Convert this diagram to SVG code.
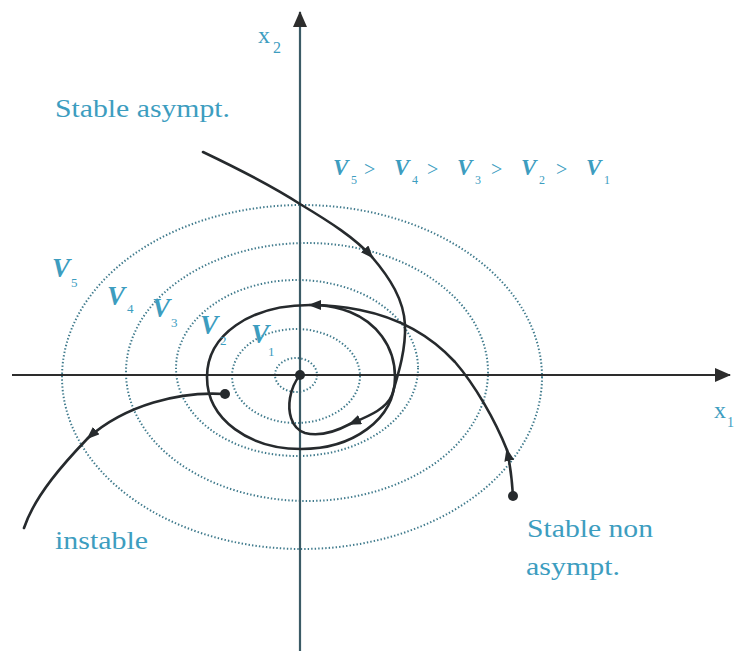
<svg xmlns="http://www.w3.org/2000/svg" width="736" height="651" viewBox="0 0 736 651">
<style>
.lvl{fill:none;stroke:#3f7a8c;stroke-width:2;stroke-dasharray:1.4 2.1}
.traj{fill:none;stroke:#262a2d;stroke-width:2.6;stroke-linecap:round;stroke-linejoin:round}
.arr{fill:none;stroke:#262a2d;stroke-width:2.6;stroke-linecap:round;marker-end:url(#ah)}
.lbl{font-family:"Liberation Serif","Times New Roman",serif;fill:#3d9dbf}
.vi{font-family:"Liberation Serif","Times New Roman",serif;font-style:italic;font-weight:bold;fill:#3d9dbf}
.dot{fill:#262a2d}
</style>
<defs>
<marker id="ah" markerUnits="userSpaceOnUse" markerWidth="14" markerHeight="12" refX="11" refY="5" orient="auto">
<path d="M0,0 L13,5 L0,10 z" fill="#262a2d"/>
</marker>
<marker id="axh" markerUnits="userSpaceOnUse" markerWidth="16" markerHeight="16" refX="15" refY="7" orient="auto">
<path d="M0,0 L16,7 L0,14 z" fill="#2d2d2d"/>
</marker>
</defs>
<rect width="736" height="651" fill="#ffffff"/>

<g id="level-sets">
<ellipse class="lvl" cx="296" cy="375" rx="21" ry="17"/>
<ellipse class="lvl" cx="296" cy="376" rx="64" ry="47"/>
<ellipse class="lvl" cx="297" cy="368" rx="121" ry="88"/>
<ellipse class="lvl" cx="307" cy="372" rx="181" ry="129"/>
<ellipse class="lvl" cx="302" cy="377" rx="240" ry="172"/>
</g>

<g id="axes">
<line x1="12" y1="375" x2="730" y2="375" stroke="#2d2d2d" stroke-width="2.2" marker-end="url(#axh)"/>
<line x1="300" y1="651" x2="300" y2="12" stroke="#3b5b66" stroke-width="2.2" marker-end="url(#axh)"/>
<text class="lbl" x="258" y="43" font-size="24">x</text>
<text class="lbl" x="273" y="53" font-size="16">2</text>
<text class="lbl" x="714" y="418" font-size="24">x</text>
<text class="lbl" x="727" y="427" font-size="14">1</text>
</g>

<g id="connectors">
<g id="traj-stable-asympt">
<path class="arr" d="M203,152 C245,172 275,188 300,204 C330,222 355,238 372,257"/>
<path class="arr" d="M372,257 C390,278 404,300 405,325 C406,350 398,375 392,395 C386,410 366,417 350,424"/>
<path class="traj" d="M350,424 C335,432 320,437 305,433 C290,428 288,410 290,398 C292,386 296,380 300,375"/>
</g>
<g id="traj-stable-non-asympt">
<path class="arr" d="M513,496 C512,480 510,464 507,450"/>
<path class="arr" d="M507,450 C495,420 475,385 455,362 C430,335 400,318 360,310 C340,306 325,305 310,305"/>
<path class="traj" d="M310,305 C250,305 207,335 207,377 C207,420 250,449 301,449 C352,449 395,420 395,377 C395,345 375,322 350,312 C340,308 330,306 318,305"/>
</g>
<g id="traj-instable">
<path class="arr" d="M225,394 C180,391 125,405 88,438"/>
<path class="traj" d="M88,438 C65,462 35,495 24,528"/>
</g>
</g>

<g id="points">
<circle class="dot" cx="300" cy="375" r="5"/>
<circle class="dot" cx="225" cy="394" r="5"/>
<circle class="dot" cx="513" cy="496" r="5"/>
</g>

<g id="level-labels">
<text class="vi" x="52" y="277" font-size="27">V</text><text class="lbl" x="71" y="287" font-size="13">5</text>
<text class="vi" x="107" y="305" font-size="27">V</text><text class="lbl" x="127" y="313" font-size="13">4</text>
<text class="vi" x="152" y="317" font-size="27">V</text><text class="lbl" x="171" y="327" font-size="13">3</text>
<text class="vi" x="200" y="334" font-size="27">V</text><text class="lbl" x="220" y="345" font-size="13">2</text>
<text class="vi" x="251" y="343" font-size="27">V</text><text class="lbl" x="268" y="356" font-size="13">1</text>
</g>

<g id="inequality">
<text class="vi" x="333" y="175" font-size="23">V</text><text class="lbl" x="351" y="184" font-size="12">5</text><text class="lbl" x="364" y="176" font-size="20">&gt;</text>
<text class="vi" x="394" y="175" font-size="23">V</text><text class="lbl" x="412" y="184" font-size="12">4</text><text class="lbl" x="427" y="176" font-size="20">&gt;</text>
<text class="vi" x="457" y="175" font-size="23">V</text><text class="lbl" x="475" y="184" font-size="12">3</text><text class="lbl" x="491" y="176" font-size="20">&gt;</text>
<text class="vi" x="521" y="175" font-size="23">V</text><text class="lbl" x="539" y="184" font-size="12">2</text><text class="lbl" x="556" y="176" font-size="20">&gt;</text>
<text class="vi" x="586" y="175" font-size="23">V</text><text class="lbl" x="604" y="184" font-size="12">1</text>
</g>

<g id="captions">
<text class="lbl" x="55" y="117" font-size="26" textLength="175" lengthAdjust="spacingAndGlyphs">Stable asympt.</text>
<text class="lbl" x="55" y="549" font-size="26" textLength="93" lengthAdjust="spacingAndGlyphs">instable</text>
<text class="lbl" x="527" y="537" font-size="26" textLength="126" lengthAdjust="spacingAndGlyphs">Stable non</text>
<text class="lbl" x="526" y="575" font-size="26" textLength="94" lengthAdjust="spacingAndGlyphs">asympt.</text>
</g>
</svg>
